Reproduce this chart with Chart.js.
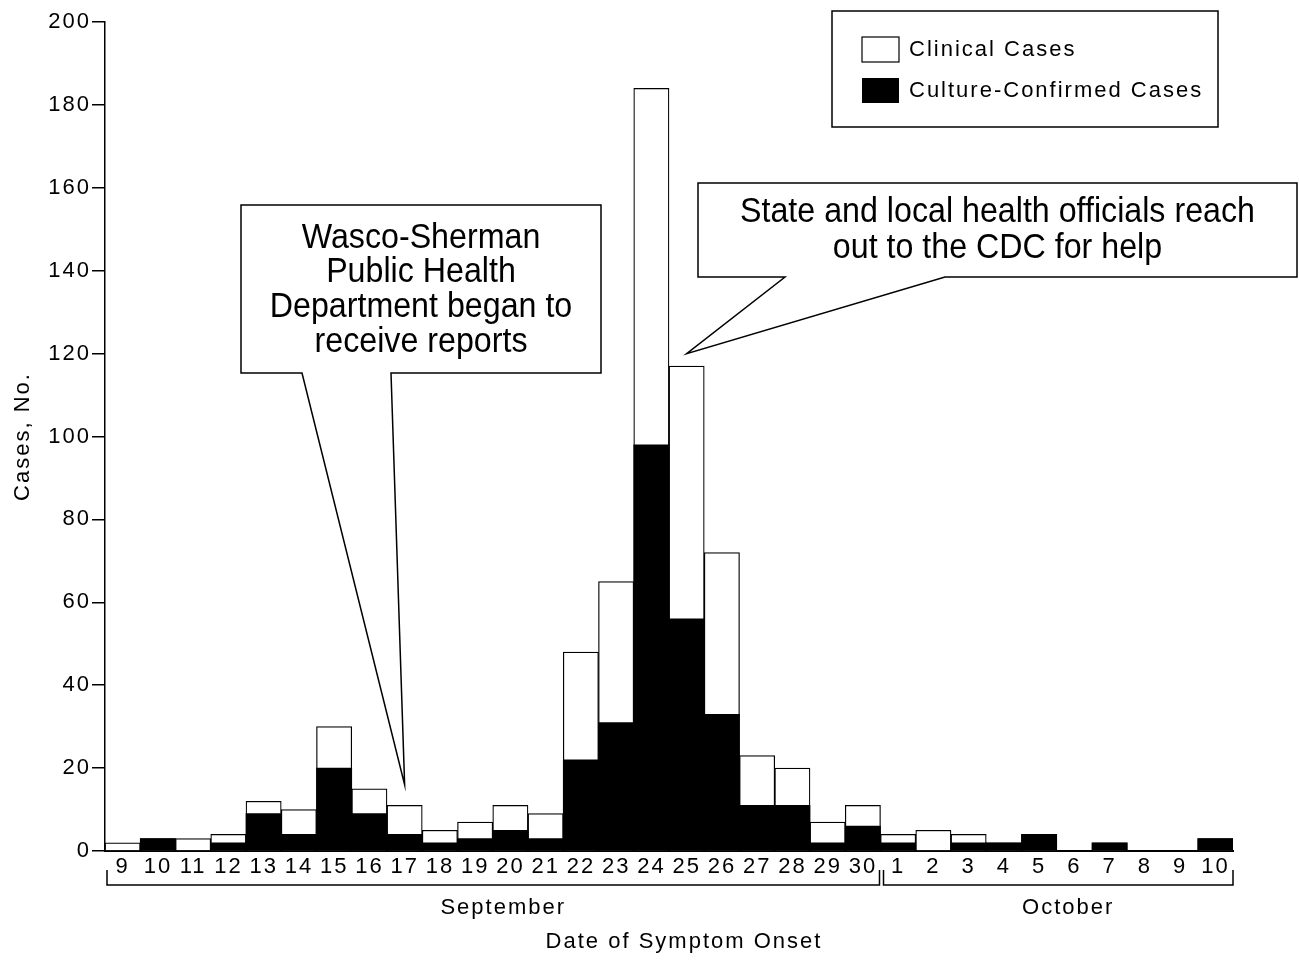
<!DOCTYPE html>
<html>
<head>
<meta charset="utf-8">
<title>Date of Symptom Onset</title>
<script src="https://cdn.jsdelivr.net/npm/chart.js@4.4.0/dist/chart.umd.min.js"></script>
<style>
  body { margin: 0; background: #fff; }
  #wrap { width: 1299px; height: 960px; }
</style>
</head>
<body>
<div id="wrap"><canvas id="grafica" width="1299" height="960"></canvas></div>
<script>
// dias de inicio de sintomas (septiembre 9-30, octubre 1-10)
const days = ['9', '10', '11', '12', '13', '14', '15', '16', '17', '18', '19', '20', '21',
  '22', '23', '24', '25', '26', '27', '28', '29', '30',
  '1', '2', '3', '4', '5', '6', '7', '8', '9', '10'];

// total de casos (barra blanca)
const clinicalCases = [2, 3, 3, 4, 12, 10, 30, 15, 11, 5, 7, 11, 9,
  48, 65, 184, 117, 72, 23, 20, 7, 11,
  4, 5, 4, 2, 4, 0, 2, 0, 0, 3];

// casos confirmados por cultivo (barra negra)
const confirmedCases = [0, 3, 0, 2, 9, 4, 20, 9, 4, 2, 3, 5, 3,
  22, 31, 98, 56, 33, 11, 11, 2, 6,
  2, 0, 2, 2, 4, 0, 2, 0, 0, 3];

const months = ['September', 'October'];
const monthFirst = [0, 22];
const monthLast = [21, 31];

const calloutLeft = ['Wasco-Sherman', 'Public Health', 'Department began to', 'receive reports'];
const calloutRight = ['State and local health officials reach', 'out to the CDC for help'];

const FONT = '"Liberation Sans", Arial, Helvetica, sans-serif';
const SPACING = '2px';

const tracking = {
  id: 'tracking',
  beforeLayout(chart) { chart.ctx.letterSpacing = SPACING; },
  beforeDraw(chart) { chart.ctx.letterSpacing = SPACING; }
};

function callout(ctx, box, baseL, baseR, tip, lines, firstY, gap) {
  ctx.beginPath();
  ctx.moveTo(box.l, box.t);
  ctx.lineTo(box.r, box.t);
  ctx.lineTo(box.r, box.b);
  ctx.lineTo(baseR, box.b);
  ctx.lineTo(tip.x, tip.y);
  ctx.lineTo(baseL, box.b);
  ctx.lineTo(box.l, box.b);
  ctx.closePath();
  ctx.fillStyle = '#fff';
  ctx.fill();
  ctx.lineWidth = 1.5;
  ctx.strokeStyle = '#000';
  ctx.stroke();

  ctx.fillStyle = '#000';
  ctx.letterSpacing = '0px';
  ctx.font = '35px ' + FONT;
  ctx.textAlign = 'center';
  ctx.textBaseline = 'middle';
  lines.forEach((t, i) => {
    ctx.save();
    ctx.translate((box.l + box.r) / 2, firstY + i * gap);
    ctx.scale(0.92, 1);
    ctx.fillText(t, 0, 0);
    ctx.restore();
  });
}

const extras = {
  id: 'extras',
  afterDraw(chart) {
    const ctx = chart.ctx;
    const x = chart.scales.x;
    const y = chart.scales.y;
    const area = chart.chartArea;
    const bw = x.getPixelForValue(1) - x.getPixelForValue(0);

    ctx.save();
    ctx.letterSpacing = SPACING;
    ctx.fillStyle = '#000';
    ctx.strokeStyle = '#000';
    ctx.font = '22px ' + FONT;
    ctx.textAlign = 'center';
    ctx.textBaseline = 'middle';

    // titulo eje Y
    ctx.save();
    ctx.translate(23, (area.top + area.bottom) / 2);
    ctx.rotate(-Math.PI / 2);
    ctx.fillText('Cases, No.', 0, 0);
    ctx.restore();

    // llaves de los meses
    ctx.lineWidth = 1.5;
    months.forEach((m, i) => {
      const l = x.getPixelForValue(monthFirst[i]) - bw / 2 + (i ? 3 : 2);
      const r = x.getPixelForValue(monthLast[i]) + bw / 2 - (i ? 0 : 1);
      ctx.beginPath();
      ctx.moveTo(l, area.bottom + 19);
      ctx.lineTo(l, area.bottom + 34);
      ctx.lineTo(r, area.bottom + 34);
      ctx.lineTo(r, area.bottom + 19);
      ctx.stroke();
      ctx.fillText(m, (l + r) / 2 + 10, area.bottom + 57);
    });
    ctx.fillText('Date of Symptom Onset', (area.left + area.right) / 2 + 15, area.bottom + 91);

    // leyenda
    ctx.lineWidth = 1.5;
    ctx.strokeRect(832, 11, 386, 116);
    ctx.lineWidth = 1.2;
    ctx.strokeRect(862, 37, 37, 25);
    ctx.fillRect(862, 78, 37, 25);
    ctx.textAlign = 'left';
    ctx.fillText('Clinical Cases', 909, 50);
    ctx.fillText('Culture-Confirmed Cases', 909, 91);

    // globos de texto
    callout(ctx, { l: 241, t: 205, r: 601, b: 373 }, 302, 391,
      { x: x.getPixelForValue(8), y: y.getPixelForValue(16) },
      calloutLeft, 238, 34.7);
    callout(ctx, { l: 698, t: 183, r: 1297, b: 277 }, 785, 945,
      { x: x.getPixelForValue(16), y: y.getPixelForValue(120) },
      calloutRight, 212, 36);

    ctx.restore();
  }
};

new Chart(document.getElementById('grafica'), {
  type: 'bar',
  data: {
    labels: days,
    datasets: [
      {
        label: 'Clinical Cases',
        data: clinicalCases,
        backgroundColor: '#fff',
        borderColor: '#000',
        borderWidth: 1.25,
        order: 1
      },
      {
        label: 'Culture-Confirmed Cases',
        data: confirmedCases,
        backgroundColor: '#000',
        borderWidth: 0,
        order: 0
      }
    ]
  },
  options: {
    responsive: false,
    animation: false,
    layout: { padding: { top: 22, right: 66, left: 0, bottom: 0 } },
    datasets: {
      bar: { grouped: false, categoryPercentage: 1, barPercentage: 1 }
    },
    plugins: {
      legend: { display: false },
      tooltip: { enabled: false }
    },
    scales: {
      x: {
        grid: { display: false, drawTicks: false },
        border: { display: true, color: '#000', width: 2 },
        ticks: {
          color: '#000',
          font: { family: FONT, size: 22 },
          padding: 3,
          maxRotation: 0,
          autoSkip: false
        },
        afterFit(scale) { scale.height = 109; }
      },
      y: {
        min: 0,
        max: 200,
        grid: { drawOnChartArea: false, drawTicks: true, tickLength: 13, color: '#000', lineWidth: 1.5 },
        border: { display: true, color: '#000', width: 1.5 },
        ticks: {
          stepSize: 20,
          color: '#000',
          font: { family: FONT, size: 22 },
          padding: 1
        },
        afterFit(scale) { scale.width = 105; }
      }
    }
  },
  plugins: [tracking, extras]
});
</script>
</body>
</html>
